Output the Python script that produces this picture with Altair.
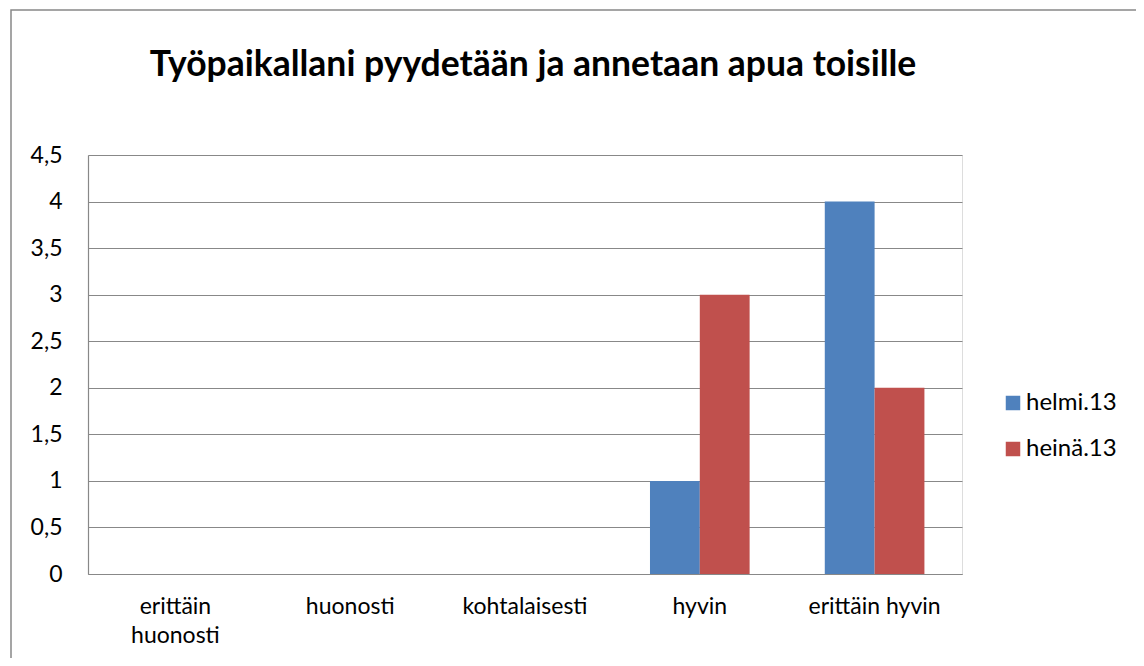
import altair as alt
import pandas as pd

categories = ["erittäin huonosti", "huonosti", "kohtalaisesti", "hyvin", "erittäin hyvin"]
series = ["helmi.13", "heinä.13"]
helmi = [0, 0, 0, 1, 4]
heina = [0, 0, 0, 3, 2]
colors = ["#4F81BD", "#C0504D"]
title = "Työpaikallani pyydetään ja annetaan apua toisille"
y_ticks = [0, 0.5, 1, 1.5, 2, 2.5, 3, 3.5, 4, 4.5]

rows = []
for i, c in enumerate(categories):
    rows.append({"kategoria": c, "sarja": series[0], "arvo": helmi[i]})
    rows.append({"kategoria": c, "sarja": series[1], "arvo": heina[i]})
df = pd.DataFrame(rows)

FONT = "Lato"
FS = 23

bars = alt.Chart(df).mark_bar().encode(
    x=alt.X("kategoria:N", sort=categories,
            scale=alt.Scale(paddingInner=0.43, paddingOuter=0.215),
            axis=alt.Axis(title=None, labelAngle=0, labelFontSize=FS, labelFont=FONT,
                          labelColor="#000", labelPadding=21, ticks=False, tickSize=0,
                          domainColor="#888", domainWidth=1.2, labelBaseline="top",
                          labelLineHeight=29,
                          labelExpr="datum.label == 'erittäin huonosti' ? ['erittäin', 'huonosti'] : datum.label")),
    xOffset=alt.XOffset("sarja:N", sort=series),
    y=alt.Y("arvo:Q", scale=alt.Scale(domain=[0, 4.5], nice=False),
            axis=alt.Axis(title=None, values=y_ticks, labelFontSize=FS, labelFont=FONT,
                          labelColor="#000", labelPadding=26, ticks=False, tickSize=0,
                          domainColor="#888", domainWidth=1.2, gridColor="#888",
                          gridWidth=1.2, format="~g",
                          labelExpr="replace(datum.label, '.', ',')")),
    color=alt.Color("sarja:N", sort=series,
                    scale=alt.Scale(domain=series, range=colors),
                    legend=alt.Legend(title=None, orient="none", legendX=913, legendY=236,
                                      symbolType="square", symbolSize=210, symbolStrokeWidth=0,
                                      labelFontSize=24, labelFont=FONT, labelColor="#000",
                                      rowPadding=22, labelOffset=1, padding=0)),
)

border = alt.Chart(pd.DataFrame({"a": [0]})).mark_rect(
    fill=None, stroke="#888", strokeWidth=1.5
).encode(x=alt.value(-77), x2=alt.value(1060), y=alt.value(-145), y2=alt.value(530))

title_mark = alt.Chart(pd.DataFrame({"t": [title]})).mark_text(
    font=FONT, fontSize=35.5, fontWeight="bold", color="#000", align="center", baseline="alphabetic"
).encode(text="t:N", x=alt.value(445), y=alt.value(-79))

chart = alt.layer(border, title_mark, bars).properties(
    width=874, height=419,
    autosize=alt.AutoSizeParams(type="none"),
    padding={"left": 80, "top": 147, "right": 174, "bottom": 84},
).configure_view(stroke=None).configure(background="white")

chart.save("out.html", embed_options={"renderer": "svg", "actions": False})
